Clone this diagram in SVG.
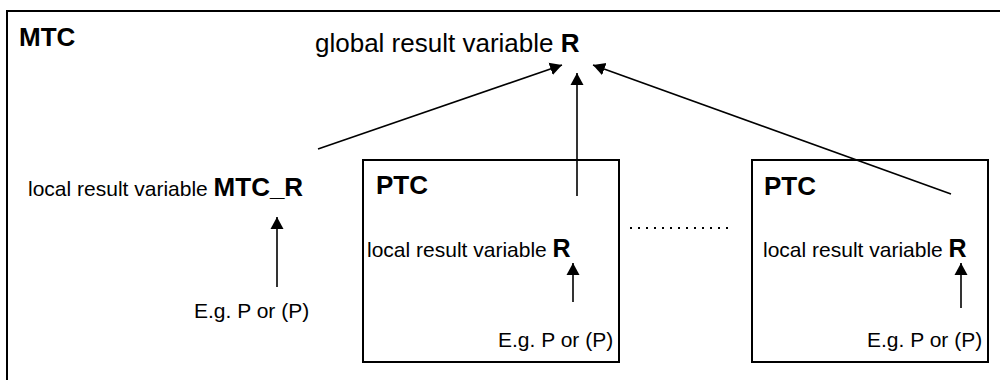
<svg xmlns="http://www.w3.org/2000/svg" width="1000" height="380" viewBox="0 0 1000 380">
<style>
  .box{fill:none;stroke:#000;stroke-width:2}
  .t{font-family:"Liberation Sans",Arial,sans-serif;fill:#000}
  .b{font-weight:bold}
  .conn line{stroke:#000;stroke-width:1.6}
  .arr{marker-end:url(#ah)}
</style>
<defs>
  <marker id="ah" markerUnits="userSpaceOnUse" markerWidth="13" markerHeight="14" refX="12" refY="7" orient="auto">
    <path d="M0,0.5 L12,7 L0,13.5 z" fill="#000"/>
  </marker>
</defs>
<rect width="1000" height="380" fill="#fff"/>
<g id="mtc">
  <rect class="box" x="7" y="11" width="1010" height="390"/>
  <text class="t b" x="19" y="46" font-size="26">MTC</text>
  <text class="t" x="315" y="52" font-size="26">global result variable <tspan class="b">R</tspan></text>
  <text class="t" x="28" y="196" font-size="21">local result variable <tspan class="b" font-size="26">MTC_R</tspan></text>
  <text class="t" x="194" y="318" font-size="21">E.g. P or (P)</text>
</g>
<g id="ptc1">
  <rect class="box" x="363" y="160" width="256" height="202"/>
  <text class="t b" x="376" y="194" font-size="26">PTC</text>
  <text class="t" x="367" y="257" font-size="21">local result variable <tspan class="b" font-size="25">R</tspan></text>
  <text class="t" x="498" y="347" font-size="21">E.g. P or (P)</text>
</g>
<g id="ptc2">
  <rect class="box" x="752" y="160" width="236" height="202"/>
  <text class="t b" x="764" y="195" font-size="26">PTC</text>
  <text class="t" x="763" y="257" font-size="21">local result variable <tspan class="b" font-size="25">R</tspan></text>
  <text class="t" x="867" y="347" font-size="21">E.g. P or (P)</text>
</g>
<g id="connectors" class="conn">
  <line class="arr" x1="318" y1="149" x2="562" y2="65"/>
  <line class="arr" x1="577" y1="196" x2="577" y2="73"/>
  <line class="arr" x1="951" y1="194" x2="593" y2="65"/>
  <line class="arr" x1="277" y1="287" x2="277" y2="217"/>
  <line class="arr" x1="573" y1="302" x2="573" y2="263"/>
  <line class="arr" x1="961" y1="308" x2="961" y2="263"/>
  <line x1="630" y1="228" x2="734" y2="228" stroke-dasharray="2 6" style="stroke-width:2"/>
</g>
</svg>
